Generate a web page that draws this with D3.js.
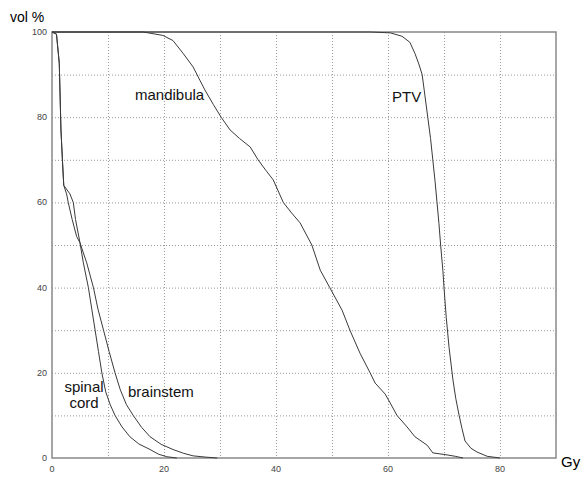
<!DOCTYPE html>
<html>
<head>
<meta charset="utf-8">
<script src="https://cdn.jsdelivr.net/npm/d3@7"></script>
<style>
  body { margin: 0; background: #fff; }
  svg { font-family: "Liberation Sans", Arial, sans-serif; }
  .tick-label { font-size: 9px; fill: #444; }
  .curve { fill: none; stroke: #3a3a3a; stroke-width: 1; }
  .grid { stroke: #999; stroke-dasharray: 1,2; }
  .lbl { font-size: 15px; fill: #111; }
</style>
</head>
<body>
<div id="chart"></div>
<script>
var width = 582, height = 477;
var margin = {top: 32, right: 26, bottom: 19, left: 52};

// dose (Gy), volume (%)
var ptv = [[0,100],[56.8,100],[60.4,99.8],[62.5,99],[63.9,97.6],[64.8,95],[65.5,92.5],[66.1,90],[66.6,85],
  [67.1,80],[67.6,75],[68.0,70],[68.4,65],[68.75,60],[69.1,55],[69.4,50],[69.8,44],[70.0,40],[70.4,33],
  [70.9,26],[71.6,18.3],[72.1,14],[72.7,10],[73.2,7],[73.75,4],[74.8,2.3],[75.9,1.4],[77.7,0.4],[80,0]];

var mandibula = [[0,100],[16.3,100],[19.8,99.2],[21.6,98],[23.4,95],[25.2,91.8],[26.4,88.7],[27.3,86.4],
  [28.8,83],[30.2,80],[31.8,77],[33.5,75],[35.4,73],[36.8,70],[38.2,67.5],[39.5,65.3],[41.3,60],[42.8,57.5],
  [44.3,55.2],[46.4,50],[47.9,44.1],[49.6,40],[51.8,34.7],[53.2,30],[55,24.6],[56.8,20],[57.7,17.6],
  [59.5,15],[60.4,12.9],[61.6,10],[63.4,7.3],[64.8,5],[67,3],[68,1.2],[70.2,0.8],[72,0.4],[73.4,0]];

var spinalCord = [[0,100],[0.8,99.5],[1.3,92.7],[1.6,77],[1.9,69],[2.1,64],[3.2,62],[3.8,60],[4.2,56],
  [5.0,50.5],[5.6,45.8],[6.5,40],[7.1,35],[7.7,30],[8.3,25],[8.9,20],[9.6,15.5],[10.4,12.5],[11.25,10],
  [12.5,7.3],[13.9,5],[15.5,3.3],[17.5,2],[19.0,0.9],[20.5,0.3],[22.3,0]];

var brainstem = [[0,100],[0.8,99.5],[1.3,92.7],[1.6,77],[1.9,69],[2.1,64],[2.6,62],[2.9,60],[3.6,56],
  [4.4,52],[5.0,50.5],[6.2,45.8],[7.4,40],[8.2,35],[9.2,30],[10.2,25],[11.25,20],[12.2,16],[13.3,12.5],
  [14.5,10],[16,7.2],[17.5,5],[19.5,3.2],[21.6,2],[23.5,1.1],[25.2,0.5],[27.5,0.2],[29.5,0]];

var xTicks = [0, 20, 40, 60, 80];
var yTicks = [0, 20, 40, 60, 80, 100];
var gridX = [10, 20, 30, 40, 50, 60, 70, 80];
var gridY = [10, 20, 30, 40, 50, 60, 70, 80, 90];

var svg = d3.select("#chart")
  .append("svg")
  .attr("width", width)
  .attr("height", height);

var x = d3.scaleLinear().domain([0, 90]).range([margin.left, width - margin.right]);
var y = d3.scaleLinear().domain([0, 100]).range([height - margin.bottom, margin.top]);

// grid
svg.selectAll(".gx").data(gridX).enter().append("line")
  .attr("class", "grid")
  .attr("x1", function(d){ return x(d) + 0.5; })
  .attr("x2", function(d){ return x(d) + 0.5; })
  .attr("y1", y(100)).attr("y2", y(0));

svg.selectAll(".gy").data(gridY).enter().append("line")
  .attr("class", "grid")
  .attr("y1", function(d){ return y(d) + 0.5; })
  .attr("y2", function(d){ return y(d) + 0.5; })
  .attr("x1", x(0)).attr("x2", x(90));

// frame
svg.append("rect")
  .attr("x", x(0)).attr("y", y(100))
  .attr("width", x(90) - x(0)).attr("height", y(0) - y(100))
  .attr("fill", "none").attr("stroke", "#888").attr("stroke-width", 1.5);

// tick labels
svg.selectAll(".xt").data(xTicks).enter().append("text")
  .attr("class", "tick-label")
  .attr("x", function(d){ return x(d); })
  .attr("y", y(0) + 14)
  .attr("text-anchor", "middle")
  .text(function(d){ return d; });

svg.selectAll(".yt").data(yTicks).enter().append("text")
  .attr("class", "tick-label")
  .attr("x", x(0) - 5)
  .attr("y", function(d){ return y(d) + 3; })
  .attr("text-anchor", "end")
  .text(function(d){ return d; });

// curves
var line = d3.line()
  .x(function(d){ return x(d[0]); })
  .y(function(d){ return y(d[1]); });

[ptv, mandibula, spinalCord, brainstem].forEach(function(c){
  svg.append("path").attr("class", "curve").attr("d", line(c));
});

// labels
svg.append("text").attr("x", 10).attr("y", 22).style("font-size", "14px").text("vol %");
svg.append("text").attr("x", 561).attr("y", 467).style("font-size", "15px").text("Gy");

svg.append("text").attr("class", "lbl").attr("x", 135).attr("y", 100).text("mandibula");
svg.append("text").attr("class", "lbl").attr("x", 392).attr("y", 102).text("PTV");
svg.append("text").attr("class", "lbl").attr("x", 128).attr("y", 397).text("brainstem");
svg.append("text").attr("class", "lbl").attr("x", 84).attr("y", 392).attr("text-anchor", "middle").text("spinal");
svg.append("text").attr("class", "lbl").attr("x", 84).attr("y", 408).attr("text-anchor", "middle").text("cord");
</script>
</body>
</html>
